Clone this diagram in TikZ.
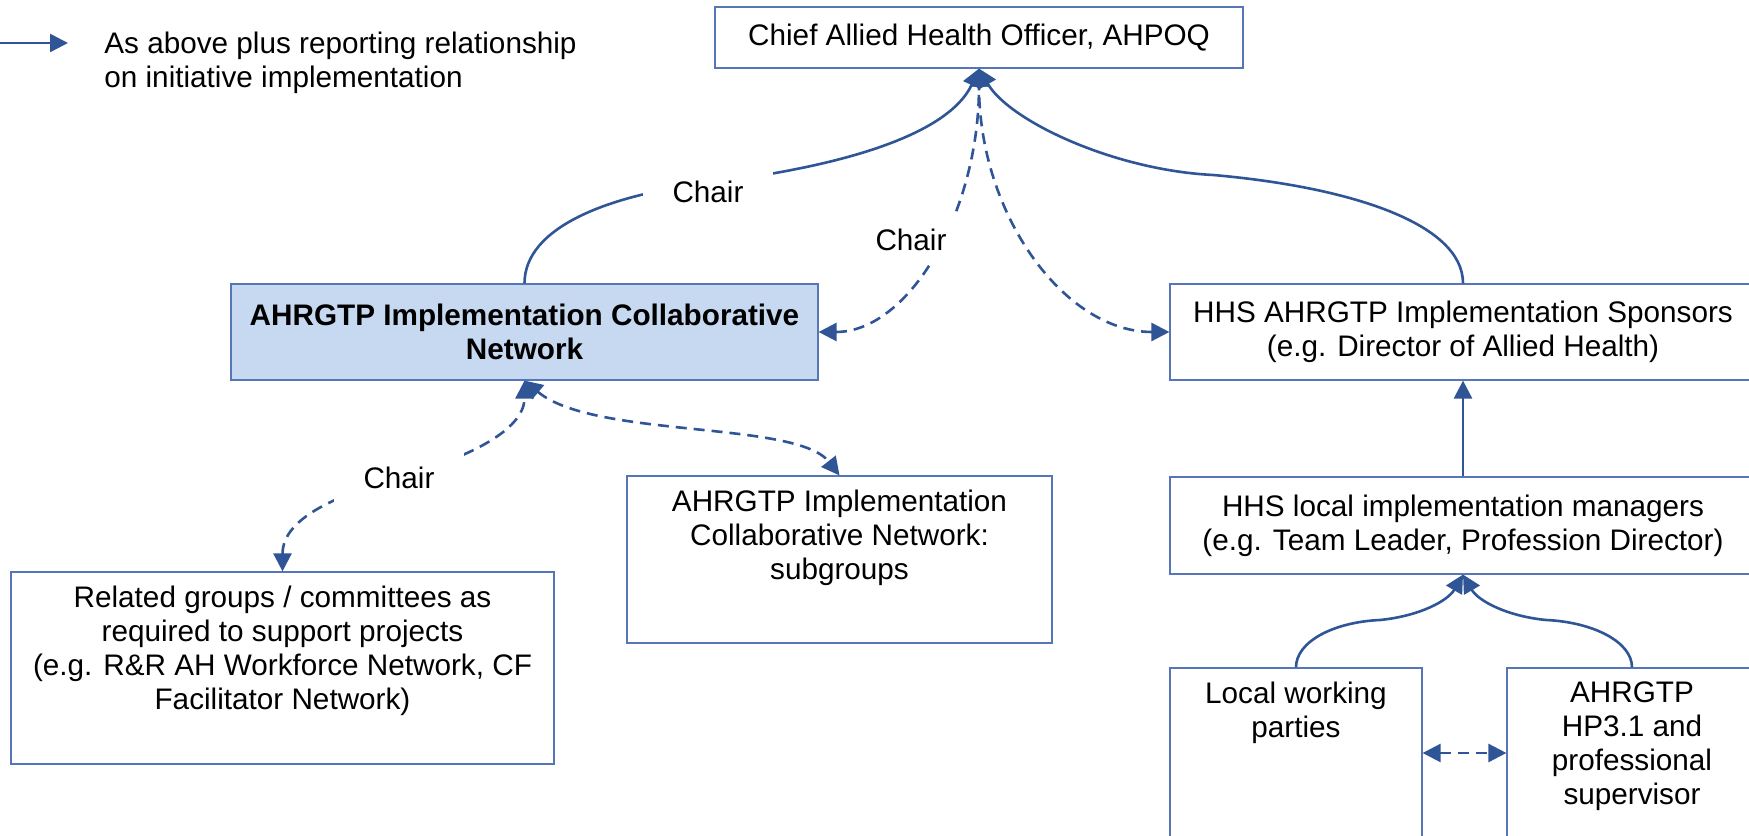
\documentclass[tikz,border=0pt]{standalone}
\usepackage{fontspec}
\setmainfont{Liberation Sans}
\usetikzlibrary{arrows.meta,positioning}
\definecolor{lineblue}{HTML}{2F5597}
\definecolor{boxblue}{HTML}{5676B8}
\definecolor{keyblue}{HTML}{C6D9F1}
\tikzset{
    org-box/.style = {draw=boxblue, line width=0.6pt, fill=white, inner sep=0pt},
    key-box/.style = {org-box, fill=keyblue},
    report/.style = {draw=lineblue, line width=1.3pt, -{Triangle[length=9pt,width=9pt]}},
    liaise/.style = {draw=lineblue, line width=1.3pt, dash pattern=on 5.5pt off 3.5pt, {Triangle[length=9pt,width=9pt]}-{Triangle[length=9pt,width=9pt]}},
    chair-tag/.style = {fill=white, inner sep=0pt, minimum width=65pt, minimum height=25pt},
    key-note/.style = {align=left, inner sep=0pt},
}

\begin{document}
\begin{tikzpicture}[x=0.5pt, y=0.5pt, font=\fontsize{14.85}{17}\selectfont]
\path[use as bounding box, fill=white] (0,0) rectangle (1749,835);
\clip (0,0) rectangle (1749,835);

% key
\coordinate (key-start) at (0,792);
\coordinate (key-end) at (68,792);
\draw[report] (key-start) -- (key-end);
\node[key-note, right=18pt] (key-text) at ([yshift=-10pt]key-end) {As above plus reporting relationship\\on initiative implementation};

% boxes
\node[org-box] (chief) at (979,797.5) {\begin{minipage}[c][30.5pt][c]{264pt}\centering
    Chief Allied Health Officer, AHPOQ
\end{minipage}};
\node[key-box] (icn) at (524.5,503) {\begin{minipage}[c][48pt][c]{293.5pt}\centering\bfseries
    AHRGTP Implementation Collaborative\\Network
\end{minipage}};
\node[org-box] (sponsors) at (1463,503) {\begin{minipage}[c][48pt][c]{293pt}\centering
    HHS AHRGTP Implementation Sponsors\\(e.g. Director of Allied Health)
\end{minipage}};
\node[org-box] (managers) at (1463,309.5) {\begin{minipage}[c][48.5pt][c]{293pt}\centering
    HHS local implementation managers\\(e.g. Team Leader, Profession Director)
\end{minipage}};
\node[org-box] (subgroups) at (839.5,275.5) {\begin{minipage}[c][83.5pt][t]{212.5pt}\centering\vspace*{7pt}
    AHRGTP Implementation\\Collaborative Network:\\subgroups
\end{minipage}};
\node[org-box] (related) at (282.5,167) {\begin{minipage}[c][96pt][t]{271.5pt}\centering\vspace*{7pt}
    Related groups / committees as\\required to support projects\\(e.g. R\&R AH Workforce Network, CF\\Facilitator Network)
\end{minipage}};
\node[org-box] (parties) at (1296,82) {\begin{minipage}[c][85pt][t]{126pt}\centering\vspace*{7pt}
    Local working\\parties
\end{minipage}};
\node[org-box] (supervisor) at (1632,82) {\begin{minipage}[c][85pt][t]{125pt}\centering\vspace*{7pt}
    AHRGTP\\HP3.1 and\\professional\\supervisor
\end{minipage}};

% bends where the labels sit
\coordinate (bend-a) at (708,652);
\coordinate (bend-c) at (400,358);
\coordinate (bend-r) at (1213,660);
\coordinate (bend-l) at (1380,215);
\coordinate (bend-s) at (1546,215);

% reporting lines
\draw[report] (icn.north) .. controls +(0,56) and +(-100,-12) .. (bend-a) .. controls +(171,21) and +(-25,-55) .. (chief.south);
\draw[report] (sponsors.north) .. controls +(0,60) and +(137,-12) .. (bend-r) .. controls +(-100,5) and +(30,-52) .. (chief.south);
\draw[report] (managers.north) -- (sponsors.south);
\draw[report] (parties.north) .. controls +(0,26) and +(-46,-2) .. (bend-l) .. controls +(40,4) and +(-15,-26) .. (managers.south);
\draw[report] (supervisor.north) .. controls +(0,26) and +(46,-2) .. (bend-s) .. controls +(-40,4) and +(15,-26) .. (managers.south);

% two-way links
\draw[liaise] (icn.east) .. controls +(89,0) and +(0,-146) .. (chief.south);
\draw[liaise] (sponsors.west) .. controls +(-105,0) and +(0,-146) .. (chief.south);
\draw[liaise] (related.north) .. controls +(0,55) and +(-58,-17) .. (bend-c) .. controls +(67,19) and +(0,-50) .. (icn.south);
\draw[liaise] (icn.south) .. controls +(69,-58) and +(-43,55) .. (subgroups.north);
\draw[liaise] (parties.east) -- (supervisor.west);

% labels
\node[chair-tag] (chair-a) at (708,643) {Chair};
\node[chair-tag] (chair-b) at (911,595) {Chair};
\node[chair-tag] (chair-c) at (399,357) {Chair};
\end{tikzpicture}
\end{document}
